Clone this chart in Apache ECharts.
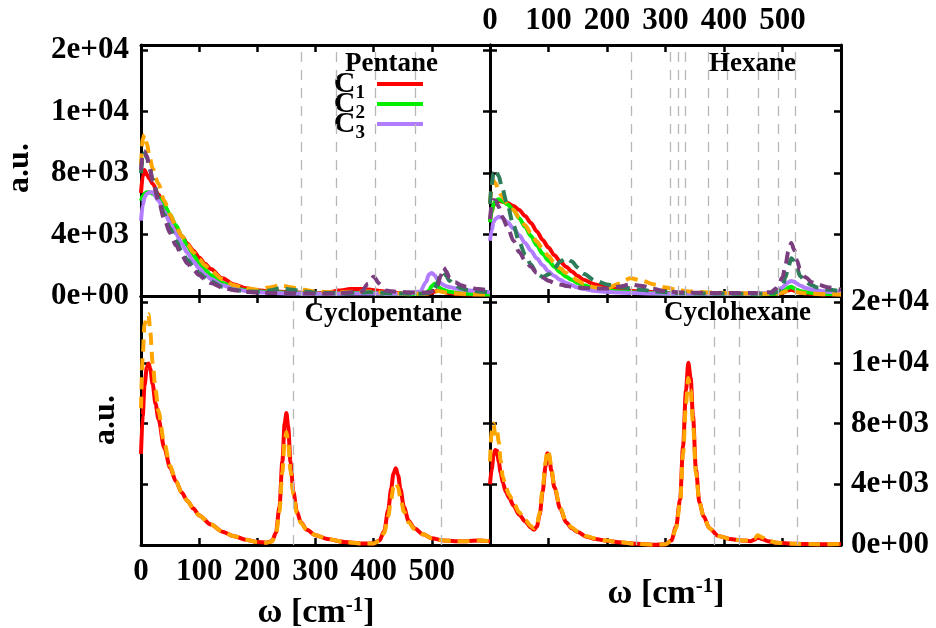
<!DOCTYPE html>
<html><head><meta charset="utf-8">
<script src="https://cdn.jsdelivr.net/npm/echarts@6/dist/echarts.min.js"></script>
<style>html,body{margin:0;padding:0;background:#fff}#c{width:936px;height:628px}</style>
</head><body><div id="c"></div>
<script>
// ---------- tick labels ----------
const xTickValues = [0, 100, 200, 300, 400, 500, 600];
const xLabelValues = [0, 100, 200, 300, 400, 500];
const yTickValues = [0, 4000, 8000, 12000, 16000];
const yTickLabels = ['0e+00', '4e+03', '8e+03', '1e+04', '2e+04'];

// ---------- Pentane ----------
const xPentane = [0,3,6,10,15,20,30,40,50,60,70,80,90,100,110,120,140,160,180,200,220,240,260,280,300,320,340,360,380,390,400,410,420,440,460,480,490,495,500,505,510,515,520,525,530,540,550,560,580,600];
const pentaneC1 = [6700,7800,8200,7900,7600,7300,6600,5850,5150,4500,3900,3400,2950,2500,2100,1750,1150,750,500,380,300,270,250,200,180,220,350,450,450,420,380,330,280,200,150,150,150,170,220,300,350,330,280,230,200,150,130,110,100,90];
const pentaneC2 = [6200,6500,6650,6750,6750,6650,6400,5900,5300,4600,3900,3250,2650,2150,1700,1350,850,530,370,300,250,220,200,170,150,150,170,200,200,200,190,170,150,130,120,130,200,350,650,800,650,480,400,330,280,220,180,150,120,100];
const pentaneC3 = [4900,5900,6400,6650,6750,6750,6200,5500,4750,4050,3400,2800,2250,1800,1400,1100,700,470,330,250,200,180,160,150,140,140,150,160,170,170,170,160,150,140,150,300,900,1400,1500,1350,1050,850,720,640,580,500,440,380,300,250];
const pentaneOrange = [8500,10200,10500,9900,9000,8300,7300,6200,5300,4550,3900,3350,2850,2400,2000,1650,1100,700,500,400,550,700,550,400,300,250,250,280,300,300,280,250,220,180,150,150,150,170,200,280,330,300,260,220,200,170,150,130,110,100];
const pentaneDarkGreen = [8000,9000,9300,9000,8300,7600,6400,5300,4400,3600,2900,2350,1900,1500,1200,950,600,400,300,280,350,500,400,300,220,200,200,200,220,250,250,220,200,170,150,150,170,200,300,500,900,1400,1550,1300,1000,700,500,400,300,250];
const pentaneDarkPurple = [8200,9200,9400,9100,8300,7500,6200,5000,4100,3300,2650,2100,1700,1350,1100,850,550,380,280,220,200,200,180,160,150,150,170,250,300,800,1250,800,350,280,250,220,230,250,300,400,700,1300,1850,1600,1200,900,700,600,450,350];
const pentaneVLines = [276, 336, 403, 471];

// ---------- Hexane ----------
const xHexane = [0,3,6,10,15,20,30,40,50,60,70,80,90,100,110,120,130,140,150,160,180,200,220,240,260,280,300,320,340,380,420,460,480,490,500,505,510,515,520,525,530,540,550,560,580,600];
const hexaneC1 = [4900,5500,5900,6100,6200,6150,6050,5850,5600,5200,4750,4200,3650,3150,2650,2250,1900,1600,1300,1050,750,550,420,340,290,250,200,180,170,160,150,130,130,150,200,300,380,400,350,280,230,180,150,130,110,100];
const hexaneC2 = [4800,5500,5950,6200,6300,6200,5950,5600,5050,4500,3900,3300,2750,2300,1900,1550,1250,1050,850,700,500,380,300,250,200,180,160,150,150,140,130,120,130,150,250,400,550,600,500,400,320,250,200,170,130,110];
const hexaneC3 = [3600,4300,4800,5050,5150,5100,4800,4400,3950,3450,2950,2450,2000,1600,1300,1050,850,700,550,450,330,270,230,200,180,160,150,140,140,140,140,150,200,300,550,750,900,980,920,800,680,520,420,350,260,200];
const hexaneOrange = [6000,7000,7500,7300,6800,6500,6000,5600,5100,4600,4100,3550,3050,2600,2150,1800,1500,1250,1000,800,550,500,800,1150,1000,750,550,400,300,220,180,150,150,170,220,300,350,350,300,250,220,180,150,130,110,100];
const hexaneDarkGreen = [6000,7300,8000,8200,7800,7100,5900,4600,3500,2700,2050,1450,1250,1400,1800,2250,2450,2250,1850,1450,1000,750,600,500,400,300,250,200,180,160,150,150,180,250,600,1200,1900,2450,2300,1800,1300,900,700,550,400,300];
const hexaneDarkPurple = [5000,5900,6250,6200,5800,5200,4500,3600,2850,2300,1900,1500,1200,1000,850,750,650,600,550,520,480,480,600,750,650,450,300,250,220,200,200,200,250,500,1200,2000,2900,3450,3000,2300,1700,1200,900,750,550,400];
const hexaneVLines = [242, 308, 322, 334, 373, 405, 458, 492, 522];

// ---------- Cyclopentane ----------
const xCyclopentane = [0,3,6,10,13,16,20,25,30,40,50,60,70,80,90,100,120,140,160,180,200,215,225,232,238,243,247,250,253,257,262,268,275,285,300,320,350,380,400,410,418,425,430,434,438,442,446,452,460,470,485,500,520,540,560,580,600];
const cyclopentaneRed = [6000,8500,10500,11700,11950,11600,10600,9300,8300,6400,5100,4200,3450,2900,2400,1950,1350,880,580,350,200,150,250,800,2500,5500,8000,8700,7800,5500,3500,2200,1500,1000,650,400,200,100,100,300,900,2300,3700,4700,5050,4600,3700,2500,1600,1100,700,450,300,250,250,300,250];
const cyclopentaneOrange = [9000,12500,14500,15000,15200,14000,12000,10200,8800,6700,5200,4200,3450,2900,2400,1950,1350,880,580,350,200,150,230,700,2200,4800,6900,7450,6800,4900,3300,2100,1450,1000,650,400,200,100,100,280,800,1900,3000,3800,4100,3800,3100,2200,1500,1050,700,450,300,250,250,300,250];
const cyclopentaneVLines = [262, 517];

// ---------- Cyclohexane ----------
const xCyclohexane = [0,3,6,9,12,15,18,22,27,33,40,50,60,70,75,80,85,90,95,98,101,105,110,120,130,140,150,165,180,200,220,250,280,300,310,318,325,330,335,339,343,347,352,358,365,375,390,410,430,445,452,458,465,475,490,520,560,600];
const cyclohexaneRed = [4000,5000,5900,6250,6200,5500,4800,4100,3500,3100,2600,2000,1550,1150,1000,1200,2000,3500,5200,6050,5800,4900,3800,2400,1500,1100,850,550,400,280,180,80,20,50,300,1200,3000,6500,10200,12000,11000,8500,5000,2800,1900,1100,600,400,300,250,350,500,400,250,150,80,50,60];
const cyclohexaneOrange = [5500,7500,8000,7200,7500,6800,5600,4500,3800,3300,2800,2150,1650,1250,1100,1300,2100,3700,5500,6250,6000,5000,3900,2450,1550,1150,880,580,420,290,180,80,20,50,280,1100,2800,6000,9300,11000,10200,8000,4800,2800,1900,1100,600,400,300,300,450,650,500,300,150,80,50,60];
const cyclohexaneVLines = [250, 383, 426, 525];

// ---------- styling ----------
const FONT = 'Liberation Serif';
const RED = '#ff0000', GREEN = '#00ee00', LPURPLE = '#b27cff', ORANGE = '#ffa500', DGREEN = '#2e7d5a', DPURPLE = '#7a3d7e';
const grids = [
  {left: 141, top: 45, width: 349, height: 251},
  {left: 490, top: 45, width: 351, height: 251},
  {left: 141, top: 296, width: 349, height: 249},
  {left: 490, top: 296, width: 351, height: 249}
];
const yMax = [16330, 16330, 16400, 16400];

function xAx(g, pos, show) {
  return {type: 'value', gridIndex: g, position: pos, min: 0, max: 600, interval: 100,
    axisLine: {show: true, onZero: false, lineStyle: {color: '#000', width: 3}},
    axisTick: {show: true, inside: true, length: 7, customValues: xTickValues, lineStyle: {color: '#000', width: 2.5}},
    axisLabel: {show: show, customValues: xLabelValues, margin: pos === 'top' ? 9 : 11, color: '#000', fontFamily: FONT, fontWeight: 'bold', fontSize: 31},
    splitLine: {show: false}};
}
function yAx(g, pos, show) {
  return {type: 'value', gridIndex: g, position: pos, min: 0, max: yMax[g],
    axisLine: {show: true, onZero: false, lineStyle: {color: '#000', width: 3}},
    axisTick: {show: true, inside: true, length: 7, customValues: yTickValues, lineStyle: {color: '#000', width: 2.5}},
    axisLabel: {show: show, customValues: yTickValues, margin: pos === 'left' ? 12 : 10, color: '#000', fontFamily: FONT, fontWeight: 'bold', fontSize: 31,
      formatter: function (v) { const i = yTickValues.indexOf(v); return i >= 0 ? yTickLabels[i] : ''; }},
    splitLine: {show: false}};
}
function line(name, xs, ys, g, color, dashed, vlines) {
  const s = {type: 'line', name: name, xAxisIndex: 2 * g, yAxisIndex: 2 * g,
    data: xs.map(function (x, i) { return [x, ys[i]]; }),
    showSymbol: false, symbol: 'none', smooth: 0.3, smoothMonotone: 'x', silent: true, animation: false,
    lineStyle: {color: color, width: 4, type: dashed ? [12, 7] : 'solid'},
    itemStyle: {color: color}};
  if (vlines) {
    s.markLine = {silent: true, symbol: ['none', 'none'], label: {show: false}, animation: false,
      lineStyle: {color: '#b8b8b8', width: 1.3, type: [10, 8]},
      data: vlines.map(function (v) { return {xAxis: v}; })};
  }
  return s;
}

const series = [
  line('C1', xPentane, pentaneC1, 0, RED, false, pentaneVLines),
  line('C2', xPentane, pentaneC2, 0, GREEN, false),
  line('C3', xPentane, pentaneC3, 0, LPURPLE, false),
  line('p4', xPentane, pentaneOrange, 0, ORANGE, true),
  line('p5', xPentane, pentaneDarkGreen, 0, DGREEN, true),
  line('p6', xPentane, pentaneDarkPurple, 0, DPURPLE, true),
  line('h1', xHexane, hexaneC1, 1, RED, false, hexaneVLines),
  line('h2', xHexane, hexaneC2, 1, GREEN, false),
  line('h3', xHexane, hexaneC3, 1, LPURPLE, false),
  line('h4', xHexane, hexaneOrange, 1, ORANGE, true),
  line('h5', xHexane, hexaneDarkGreen, 1, DGREEN, true),
  line('h6', xHexane, hexaneDarkPurple, 1, DPURPLE, true),
  line('cp1', xCyclopentane, cyclopentaneRed, 2, RED, false, cyclopentaneVLines),
  line('cp2', xCyclopentane, cyclopentaneOrange, 2, ORANGE, true),
  line('ch1', xCyclohexane, cyclohexaneRed, 3, RED, false, cyclohexaneVLines),
  line('ch2', xCyclohexane, cyclohexaneOrange, 3, ORANGE, true)
];

function txt(x, y, text, size, align, rot) {
  return {type: 'text', x: x, y: y, rotation: rot || 0, silent: true, z: 100,
    style: {text: text, fill: '#000', font: 'bold ' + size + 'px "' + FONT + '"',
      align: align, textAlign: align, verticalAlign: 'middle', textVerticalAlign: 'middle'}};
}
function omega(x, y) {
  return {type: 'text', x: x, y: y, silent: true, z: 100,
    style: {text: '{m|ω [cm}{s|-1}{m|]}', fill: '#000', align: 'center', textAlign: 'center', verticalAlign: 'middle', textVerticalAlign: 'middle',
      rich: {m: {fontFamily: FONT, fontWeight: 'bold', fontSize: 34, lineHeight: 36, fill: '#000'},
             s: {fontFamily: FONT, fontWeight: 'bold', fontSize: 21, lineHeight: 14, verticalAlign: 'top', fill: '#000'}}}};
}

const option = {
  backgroundColor: '#fff',
  animation: false,
  grid: grids,
  xAxis: [xAx(0, 'bottom', false), xAx(0, 'top', false), xAx(1, 'bottom', false), xAx(1, 'top', true),
          xAx(2, 'bottom', true), xAx(2, 'top', false), xAx(3, 'bottom', false), xAx(3, 'top', false)],
  yAxis: [yAx(0, 'left', true), yAx(0, 'right', false), yAx(1, 'left', false), yAx(1, 'right', false),
          yAx(2, 'left', false), yAx(2, 'right', false), yAx(3, 'left', false), yAx(3, 'right', true)],
  legend: {data: ['C1', 'C2', 'C3'], orient: 'vertical', right: 513, top: 69, align: 'right',
    itemWidth: 46, itemHeight: 4, itemGap: -14, icon: 'rect', selectedMode: false, padding: 0,
    formatter: function (n) { return '{c|C}{s|' + n.slice(1) + '}'; },
    textStyle: {color: '#000', rich: {
      c: {fontFamily: FONT, fontWeight: 'bold', fontSize: 30, lineHeight: 30, verticalAlign: 'middle', color: '#000'},
      s: {fontFamily: FONT, fontWeight: 'bold', fontSize: 19, lineHeight: 38, verticalAlign: 'bottom', padding: [0, 7, 0, 0], color: '#000'}}}},
  graphic: [
    txt(438, 64, 'Pentane', 27, 'right'),
    txt(796, 64, 'Hexane', 27, 'right'),
    txt(462, 314, 'Cyclopentane', 27, 'right'),
    txt(811, 313, 'Cyclohexane', 27, 'right'),
    txt(20, 168, 'a.u.', 32, 'center', Math.PI / 2),
    txt(106, 420, 'a.u.', 32, 'center', Math.PI / 2),
    omega(316, 613),
    omega(666, 594)
  ],
  series: series
};
const chart = echarts.init(document.getElementById('c'));
chart.setOption(option);
</script></body></html>
